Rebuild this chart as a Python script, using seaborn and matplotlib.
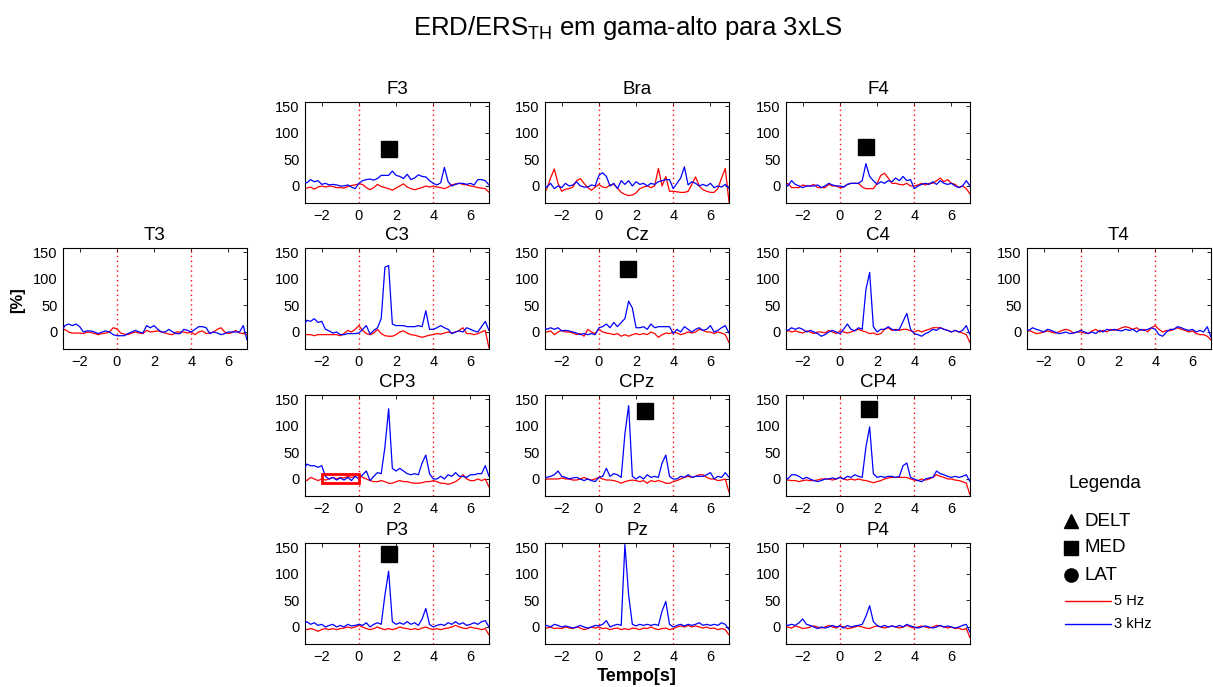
import numpy as np
import matplotlib
matplotlib.use("Agg")
import matplotlib.pyplot as plt
from matplotlib.lines import Line2D
from matplotlib.patches import Rectangle
import seaborn as sns

# ---------------------------------------------------------------- data
# sampling instants (s), 0.2 s step from -3 to 7
time_s = np.round(np.arange(-3.0, 7.0001, 0.2), 1)

F3_5hz = [-3, -4, -2, -6, -2, 0, -2, 0, -1, -3,
          -3, -4, -1, 1, 2, 4, 3, -3, -7, -3,
          3, -1, -3, -5, -8, -4, 0, 4, -2, -5,
          -7, -5, -3, 0, -2, 0, -2, -3, -5, -2,
          2, 4, 5, 3, 2, 0, -1, -3, -4, -5, -12]
F3_3khz = [8, 6, 12, 8, 10, 3, 5, 2, 3, 2,
           0, 0, 2, -2, -5, 5, 10, 12, 13, 11,
           14, 20, 20, 20, 28, 20, 18, 14, 22, 12,
           15, 21, 18, 17, 10, 5, 2, 6, 35, 8,
           0, 3, 5, 5, 3, 5, 2, 12, 12, 10, 2]

Bra_5hz = [-18, -5, 15, 32, 5, -10, -6, -5, -2, 10,
           14, 5, -3, -8, -2, 3, -2, -3, 2, 3,
           -4, -12, -16, -18, -17, -13, -5, -2, 0, -3,
           0, 33, 0, 18, -10, -10, -11, -12, -12, -10,
           3, 17, 0, -7, -10, -12, -12, -5, 15, 33, -30]
Bra_3khz = [0, -2, 5, -5, 0, -3, 5, 0, 2, 8,
            0, -2, -2, 2, 0, 20, 25, 18, 0, 5,
            -5, 10, 3, 10, 0, 8, 3, 5, 0, 5,
            3, 8, 10, 12, 12, -5, 5, 15, 36, 2,
            8, 5, 0, 3, 0, 5, -3, 0, -2, 3, -5]

F4_5hz = [-5, 5, -3, -3, -3, 2, 0, 0, 3, -3,
          -3, -3, 3, 0, 0, -3, -2, 3, 5, 5,
          5, -2, -5, -5, -5, 5, 20, 24, 15, 5,
          5, 3, 2, 5, 0, 0, 2, 5, 2, 5,
          5, 10, 15, 8, 12, 5, 3, -3, 0, -5, -15]
F4_3khz = [5, 0, 10, 3, 0, -3, 0, 0, 0, 2,
           -3, 0, 5, 2, 0, 0, -2, 3, 5, 5,
           5, 10, 42, 18, 10, 3, 8, 5, 10, 8,
           15, 10, 18, 10, 12, -5, 0, 3, 5, 3,
           8, 3, 10, 5, 3, 5, 0, -3, 0, 10, 0]

T3_5hz = [0, 5, 0, -2, -2, -2, -3, 0, -1, -3,
          -5, -3, -2, 0, 8, 6, -2, -4, -5, -2,
          0, -2, -3, 3, 0, 1, 2, 0, -2, -4,
          -5, 0, 0, 0, -2, 0, -5, 0, 2, -3,
          -2, 0, 5, 8, 0, -3, -1, 3, -2, -3, -5]
T3_3khz = [0, 12, 15, 12, 15, 10, 0, 2, 2, 0,
           -3, 0, 2, 0, -5, -7, -7, -7, -3, 0,
           3, 0, -2, 12, 8, 12, 5, 0, 0, 5,
           0, -3, -3, 5, 3, 0, 5, 10, 10, 8,
           -3, 0, -2, -5, -3, 0, 0, 0, 0, 12, -15]

C3_5hz = [-3, -5, -5, -7, -5, -5, -5, -5, -5, -5,
          -7, -3, 3, 0, 5, 12, 3, -3, -5, -2,
          5, -3, -7, -8, -8, -5, 0, 2, -2, -5,
          -6, -8, -10, -8, -6, -5, -3, -4, -2, 0,
          -2, 0, 3, 8, -3, -3, -5, -3, 0, 3, -30]
C3_3khz = [10, 22, 20, 25, 18, 20, 5, 2, -2, 0,
           -5, -5, -3, -3, -3, -2, 5, 12, -4, 3,
           8, 25, 122, 125, 15, 12, 12, 12, 10, 10,
           10, 12, 10, 40, 5, 5, 8, 12, 8, 5,
           -3, 0, 2, 0, 8, 5, 2, 0, 10, 20, 3]

Cz_5hz = [0, 0, 2, -5, 0, 3, 0, 0, -2, -5,
          -3, -8, 5, 0, -3, 5, 0, -2, -3, -5,
          -3, -8, -5, -8, -5, -3, -5, -3, -5, 0,
          -3, -10, -5, -2, -3, 0, -2, -5, -3, 0,
          -2, 0, 5, 3, 0, 0, -3, 0, -2, -5, -20]
Cz_3khz = [10, 5, 8, 5, 8, 2, 3, 2, 0, -2,
           -5, -3, -5, -3, -5, 8, 10, 15, 8, 18,
           10, 18, 25, 58, 45, 8, 8, 10, 5, 15,
           8, 10, 10, 10, 10, -3, 5, 0, 10, 5,
           0, 5, 8, 3, 5, 12, 0, 3, 8, 12, -2]

C4_5hz = [-5, 3, 0, 2, 0, -2, 2, 0, -3, 0,
          0, -2, 3, 0, -3, 2, 0, -2, 0, 3,
          5, 2, 0, -3, -2, -5, -3, 5, 8, 3,
          5, 3, 5, 5, 2, 0, 3, 0, 3, 5,
          8, 8, 8, 5, 3, 0, 3, 0, -2, -5, -20]
C4_3khz = [5, 3, 8, 5, 8, 5, 0, 3, 0, -3,
           -8, -5, 0, 3, 0, -3, 5, 15, 5, 2,
           8, 5, 80, 112, 10, 0, 5, 5, 10, 5,
           3, 5, 20, 35, 5, -3, -5, -8, -3, 0,
           5, 3, 8, 5, 3, 0, 3, 0, 3, 12, -5]

T4_5hz = [-5, 3, 0, -3, -2, 0, 2, 0, -2, 0,
          3, 5, 3, -2, 0, 0, -2, -3, 2, 5,
          0, 3, 0, 5, 3, 5, 8, 10, 8, 5,
          8, 3, 5, 0, 8, 12, 5, 0, 3, 2,
          5, 8, 5, 3, 0, 2, -3, -5, -5, -8, -15]
T4_3khz = [5, 3, 8, 5, 3, 0, 5, 3, 0, -3,
           -2, 0, -3, -2, 0, 3, 0, -3, 0, -3,
           3, 0, 5, 3, 5, 3, 2, 5, 3, 5,
           0, 5, 3, 5, 8, 5, -5, -8, 0, 5,
           5, 10, 8, 5, 3, 5, 0, 3, 0, 10, -10]

CP3_5hz = [0, -3, 3, 0, -3, 0, -2, 0, 3, 0,
           3, 2, 5, 3, 5, 8, 3, 0, -3, -5,
           -5, -3, -5, -8, -8, -5, -3, -5, -5, -7,
           -8, -8, -7, -5, -5, -3, -5, -8, -8, -10,
           -8, -5, 0, 8, 0, -3, -3, 0, -3, 0, -15]
CP3_3khz = [15, 28, 25, 25, 22, 25, 5, 0, 3, -2,
            2, -2, 3, -3, 5, 0, 8, 15, -3, 5,
            12, 10, 60, 132, 20, 15, 20, 15, 10, 8,
            10, 8, 30, 45, 10, 0, 0, 5, 0, 8,
            5, 12, 5, 5, 3, 8, 8, 10, 10, 25, 5]

CPz_5hz = [-5, 0, 0, 0, 0, 2, 0, 0, -2, -2,
           0, 3, 0, -2, 0, 3, 0, -2, -2, -3,
           -5, -8, -5, -3, -2, -3, -5, -3, -8, -3,
           -5, -3, -5, -8, -8, -5, -3, 0, 3, 5,
           3, 5, 8, 8, 3, 0, 0, -3, -2, 0, -25]
CPz_3khz = [5, 3, 5, 8, 15, 5, 3, 0, 2, 3,
            0, -3, 0, -3, -5, 3, 5, 20, 5, 10,
            8, 3, 85, 138, 5, 0, 5, 0, 8, 3,
            5, 3, 30, 45, 5, 0, 0, 5, 3, 8,
            3, 5, 5, 5, 8, 12, 0, 5, 3, 12, 3]

CP4_5hz = [-5, -2, -3, -3, -5, -3, -2, -3, -3, -2,
           0, 0, 0, -2, 0, 3, 0, -2, 0, -2,
           0, -2, -3, -5, -7, -5, -3, 0, 2, 3,
           3, 3, 3, 3, 0, -2, -3, 0, -2, 0,
           3, 8, 5, 3, 0, 0, -2, -3, -5, -8, -30]
CP4_3khz = [5, 0, 8, 8, 5, 0, 3, 0, -3, -5,
            -3, 0, 0, 2, 0, 3, 0, 5, 3, 8,
            5, 3, 60, 98, 10, 3, 5, 3, 5, 5,
            3, 5, 25, 30, 3, 0, -3, -5, 0, 2,
            3, 15, 10, 8, 5, 3, 5, 3, 5, 8, -5]

P3_5hz = [-3, -5, -3, -5, -8, -5, -3, -5, -3, -5,
          -3, -2, 0, -2, 0, 3, 0, -3, -5, -3,
          0, -3, -5, -3, -5, -3, 0, -2, -3, -5,
          -3, -5, -2, 0, -3, -5, -3, -5, -3, -2,
          0, 3, 0, -2, -3, 0, -2, -3, -5, -3, -15]
P3_3khz = [5, 10, 5, 8, 3, 5, 0, 3, 5, 0,
           3, 0, 5, 2, 3, 5, 3, 8, 0, 5,
           8, 5, 60, 105, 10, 5, 8, 5, 10, 5,
           8, 3, 15, 35, 5, 0, 3, 5, 3, 8,
           5, 10, 5, 8, 3, 5, 8, 5, 10, 12, 0]

Pz_5hz = [-3, -2, 0, -3, -2, -3, 0, -2, -3, 0,
          -2, -5, -3, 0, -2, 0, -3, -2, -5, -3,
          -2, -5, -3, -5, -2, -3, -5, -2, -3, 0,
          -3, -5, -3, -2, -5, -3, 0, 2, 0, 3,
          0, 2, 0, -2, 0, -3, -2, -5, -3, -5, -15]
Pz_3khz = [0, 3, 0, 5, 3, 0, 2, 0, -2, 0,
           3, 0, -2, 0, 3, 2, 5, 12, 0, 3,
           5, 3, 155, 60, 5, 2, 5, 3, 5, 3,
           5, 3, 30, 48, 5, 0, 3, 5, 2, 5,
           3, 5, 8, 3, 5, 3, 5, 3, 8, 5, -5]

P4_5hz = [-3, 0, -2, 2, 0, -3, -2, 0, 2, 0,
          -2, 0, 3, 0, -2, 2, 0, -3, -2, 0,
          2, 0, -2, -3, 0, 2, 0, -2, 0, 2,
          0, -2, 0, 3, 0, -2, 0, 2, 0, -2,
          0, 3, 2, 0, -2, 0, -3, -2, -5, -3, -20]
P4_3khz = [5, 3, 5, 3, 8, 15, 5, 3, 0, -3,
           0, -2, 0, 3, 0, 2, -2, 3, 0, 2,
           3, 5, 20, 40, 10, 3, 0, 3, 0, 2,
           0, 3, 0, 5, 2, 0, -2, 0, 2, 0,
           -2, 0, 3, 0, 2, 0, -2, 0, 3, 5, -10]

# channel -> (5 Hz series, 3 kHz series)
series = {
    "F3": (F3_5hz, F3_3khz), "Bra": (Bra_5hz, Bra_3khz), "F4": (F4_5hz, F4_3khz),
    "T3": (T3_5hz, T3_3khz), "C3": (C3_5hz, C3_3khz), "Cz": (Cz_5hz, Cz_3khz),
    "C4": (C4_5hz, C4_3khz), "T4": (T4_5hz, T4_3khz),
    "CP3": (CP3_5hz, CP3_3khz), "CPz": (CPz_5hz, CPz_3khz), "CP4": (CP4_5hz, CP4_3khz),
    "P3": (P3_5hz, P3_3khz), "Pz": (Pz_5hz, Pz_3khz), "P4": (P4_5hz, P4_3khz),
}

# MED markers (time s, value %)
med_markers = {"F3": (1.62, 70), "F4": (1.38, 73), "Cz": (1.57, 119),
               "CPz": (2.46, 127), "CP4": (1.59, 132), "P3": (1.6, 138)}

# baseline window highlighted on CP3: (t0, t1, low, high)
baseline_box = (-2.0, 0.0, -8, 9)

x_ticks = [-2, 0, 2, 4, 6]
y_ticks = [0, 50, 100, 150]
event_times = [0, 4]

# ---------------------------------------------------------------- layout
W, H = 1213, 687
grid = {"F3": (0, 1), "Bra": (0, 2), "F4": (0, 3),
        "T3": (1, 0), "C3": (1, 1), "Cz": (1, 2), "C4": (1, 3), "T4": (1, 4),
        "CP3": (2, 1), "CPz": (2, 2), "CP4": (2, 3),
        "P3": (3, 1), "Pz": (3, 2), "P4": (3, 3)}
col_left = [63, 305, 545, 786, 1027]
row_top = [102, 248, 395, 543]
AX_W, AX_H = 184, 101

sns.set_style("white")
plt.rcParams.update({
    "font.family": ["Liberation Sans", "DejaVu Sans"],
    "mathtext.fontset": "custom",
    "mathtext.rm": "Liberation Sans",
    "text.color": "black", "axes.labelcolor": "black",
    "xtick.color": "black", "ytick.color": "black",
    "xtick.direction": "in", "ytick.direction": "in",
    "xtick.top": True, "ytick.right": True,
    "xtick.major.size": 3, "ytick.major.size": 3,
    "xtick.major.width": 0.6, "ytick.major.width": 0.6,
    "axes.edgecolor": "black", "axes.linewidth": 0.8,
})

RED, BLUE = "#ff0000", "#0000ff"

fig = plt.figure(figsize=(W / 100, H / 100), dpi=100)

for name, (r, c) in grid.items():
    ax = fig.add_axes([col_left[c] / W, 1 - (row_top[r] + AX_H) / H, AX_W / W, AX_H / H])
    red, blue = series[name]
    for t in event_times:
        ax.axvline(t, color=RED, ls=(0, (1, 2.5)), lw=1.0, zorder=1)
    sns.lineplot(x=time_s, y=red, ax=ax, color=RED, lw=0.9, estimator=None, zorder=2)
    sns.lineplot(x=time_s, y=blue, ax=ax, color=BLUE, lw=0.9, estimator=None, zorder=3)
    if name in med_markers:
        mt, mv = med_markers[name]
        ax.plot([mt], [mv], marker="s", ms=11, color="black", ls="none", zorder=4)
    if name == "CP3":
        t0, t1, lo, hi = baseline_box
        ax.add_patch(Rectangle((t0, lo), t1 - t0, hi - lo, fill=False,
                               ec=RED, lw=2.0, zorder=5))
    ax.set_xlim(-2.9, 7.0)
    ax.set_ylim(-32, 158)
    ax.set_xticks(x_ticks)
    ax.set_yticks(y_ticks)
    ax.tick_params(labelsize=10.5, pad=4, colors="black")
    ax.set_title(name, fontsize=13.5, pad=6, color="black")
    ax.set_xlabel("")
    ax.set_ylabel("")
    for s in ax.spines.values():
        s.set_visible(True)
        s.set_color("black")
    if name == "Pz":
        ax.set_xlabel("Tempo[s]", fontsize=13, fontweight="bold", labelpad=3)

fig.text(18 / W, 1 - 300 / H, "[%]", rotation=90, fontsize=12, fontweight="bold",
         ha="center", va="center")

fig.text(628 / W, 1 - 28 / H, r"ERD/ERS$_{\mathrm{TH}}$ em gama-alto para 3xLS",
         fontsize=18.5, ha="center", va="center")

# legend block
fig.text(1068 / W, 1 - 484 / H, "Legenda", fontsize=13.5, ha="left", va="center")
legend_items = [("^", "DELT", 521), ("s", "MED", 548), ("o", "LAT", 575)]
for mk, lab, ypx in legend_items:
    fig.add_artist(Line2D([1071 / W], [1 - ypx / H], marker=mk, ms=9.5, color="black",
                          ls="none", transform=fig.transFigure))
    fig.text(1085 / W, 1 - ypx / H, lab, fontsize=13.5, ha="left", va="center")
for col, lab, ypx in [(RED, "5 Hz", 601), (BLUE, "3 kHz", 624)]:
    fig.add_artist(Line2D([1065 / W, 1111 / W], [1 - ypx / H] * 2, color=col, lw=1.0,
                          transform=fig.transFigure))
    fig.text(1114 / W, 1 - ypx / H, lab, fontsize=10.5, ha="left", va="center")

fig.savefig("out.png", dpi=100)
